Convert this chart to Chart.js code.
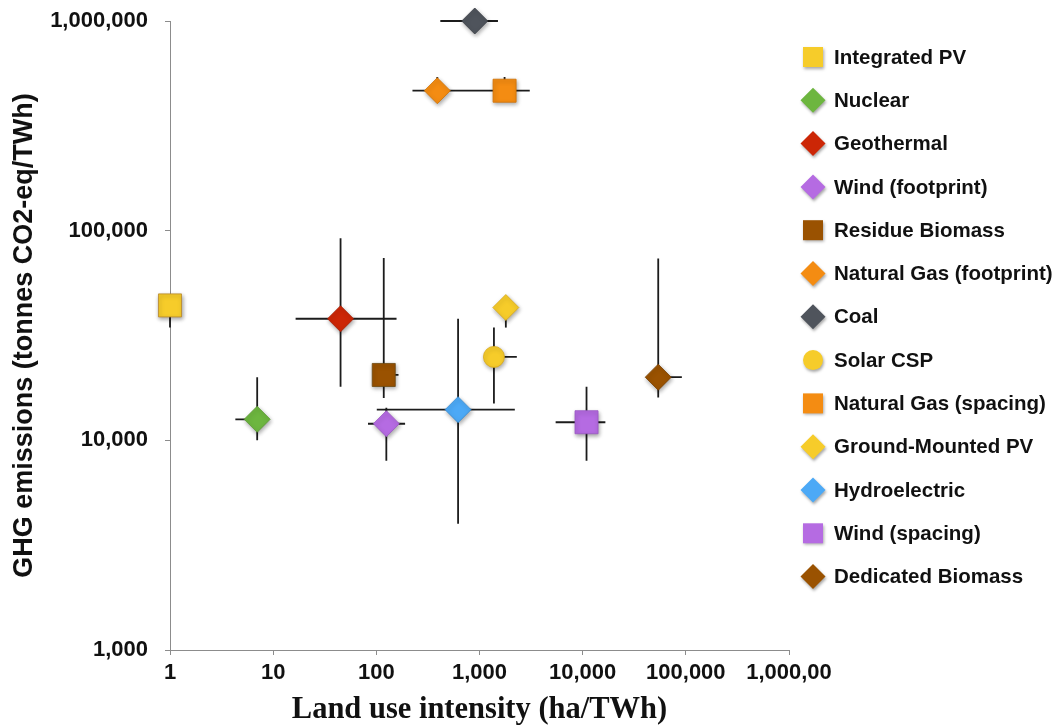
<!DOCTYPE html>
<html lang="en">
<head>
<meta charset="UTF-8">
<title>Land use vs GHG emissions</title>
<script src="https://cdn.jsdelivr.net/npm/chart.js"></script>
<style>
  body { margin: 0; background: #fff; }
  #wrap { width: 1062px; height: 727px; }
</style>
</head>
<body>
<div id="wrap"><canvas id="landChart" width="1062" height="727"></canvas></div>
<script>
// one point per energy source, with its error ranges (null = no bar)
const sources = ['Integrated PV', 'Nuclear', 'Geothermal', 'Wind (footprint)', 'Residue Biomass',
  'Natural Gas (footprint)', 'Coal', 'Solar CSP', 'Natural Gas (spacing)', 'Ground-Mounted PV',
  'Hydroelectric', 'Wind (spacing)', 'Dedicated Biomass'];
const landUse  = [1, 7, 45, 125, 118, 390, 900, 1380, 1750, 1800, 620, 10900, 54000];
const ghg      = [44000, 12600, 38000, 12000, 20500, 465000, 1000000, 25000, 465000, 43000, 14000, 12200, 20000];
const landLow  = [null, 4.3, 16.5, 83, null, 224, 417, null, 400, null, 101, 5470, null];
const landHigh = [null, null, 157, 190, 164, null, 1510, 2300, 3070, null, 2200, 16600, 91500];
const ghgLow   = [34500, 10000, 18000, 8000, 15900, null, null, 15000, 416000, 34500, 4000, 8000, 16000];
const ghgHigh  = [null, 20000, 92000, 14300, 74000, 541000, null, 34500, 541000, null, 38000, 18000, 73600];

const xTicks = [1, 10, 100, 1000, 10000, 100000, 1000000];
const xTickLabels = ['1', '10', '100', '1,000', '10,000', '100,000', '1,000,00'];
const yTicks = [1000, 10000, 100000, 1000000];
const yTickLabels = ['1,000', '10,000', '100,000', '1,000,000'];

const markerStyles = ['rect', 'rectRot', 'rectRot', 'rectRot', 'rect', 'rectRot', 'rectRot',
  'circle', 'rect', 'rectRot', 'rectRot', 'rect', 'rectRot'];
const markerColors = ['#F6CC2A', '#6DB63F', '#CC2606', '#B56BE2', '#9A5201', '#F48C12', '#4F545C',
  '#F6CC2A', '#F48C12', '#F6CC2A', '#4CA9F6', '#B56BE2', '#9A5201'];
const markerEdges = ['#B8862A', '#5A9A33', '#A81E04', '#9A58C4', '#6E4A10', '#D07408', '#3C4047',
  '#D9A91C', '#D07408', '#D9A91C', '#3A8DD3', '#9A58C4', '#7A4001'];
const markerRadius = { rect: 16.3, rectRot: 13, circle: 10.5 };

const sansFont = '"Liberation Sans", Arial, Helvetica, sans-serif';

const errorBars = {
  id: 'errorBars',
  beforeDatasetsDraw(chart) {
    const { ctx, scales: { x, y } } = chart;
    ctx.save();
    ctx.strokeStyle = '#1c1c1c';
    ctx.lineWidth = 1.8;
    for (let i = 0; i < sources.length; i++) {
      const px = x.getPixelForValue(landUse[i]);
      const py = y.getPixelForValue(ghg[i]);
      ctx.beginPath();
      if (landLow[i] !== null) { ctx.moveTo(x.getPixelForValue(landLow[i]), py); ctx.lineTo(px, py); }
      if (landHigh[i] !== null) { ctx.moveTo(px, py); ctx.lineTo(x.getPixelForValue(landHigh[i]), py); }
      if (ghgLow[i] !== null) { ctx.moveTo(px, y.getPixelForValue(ghgLow[i])); ctx.lineTo(px, py); }
      if (ghgHigh[i] !== null) { ctx.moveTo(px, py); ctx.lineTo(px, y.getPixelForValue(ghgHigh[i])); }
      ctx.stroke();
    }
    ctx.restore();
    // soft shadow under the markers
    ctx.save();
    ctx.shadowColor = 'rgba(0,0,0,0.35)';
    ctx.shadowBlur = 4;
    ctx.shadowOffsetX = 1;
    ctx.shadowOffsetY = 2;
  },
  afterDatasetsDraw(chart) {
    chart.ctx.restore();
  }
};

function drawMarker(ctx, style, x, y, color) {
  ctx.beginPath();
  if (style === 'rect') {
    ctx.rect(x - 10, y - 10, 20, 20);
  } else if (style === 'circle') {
    ctx.arc(x, y, 10, 0, Math.PI * 2);
  } else {
    ctx.moveTo(x - 12.5, y);
    ctx.lineTo(x, y - 12.5);
    ctx.lineTo(x + 12.5, y);
    ctx.lineTo(x, y + 12.5);
    ctx.closePath();
  }
  ctx.fillStyle = color;
  ctx.fill();
}

const sideLegend = {
  id: 'sideLegend',
  afterDraw(chart) {
    const ctx = chart.ctx;
    for (let i = 0; i < sources.length; i++) {
      const cy = 57 + i * 43.3;
      ctx.save();
      ctx.shadowColor = 'rgba(0,0,0,0.35)';
      ctx.shadowBlur = 3;
      ctx.shadowOffsetX = 1;
      ctx.shadowOffsetY = 2;
      drawMarker(ctx, markerStyles[i], 813, cy, markerColors[i]);
      ctx.restore();
      ctx.save();
      ctx.font = 'bold 20.5px ' + sansFont;
      ctx.textBaseline = 'middle';
      ctx.fillStyle = '#111';
      ctx.fillText(sources[i], 834, cy + 1);
      ctx.restore();
    }
  }
};

const datasets = sources.map((name, i) => ({
  label: name,
  data: [{ x: landUse[i], y: ghg[i] }],
  pointStyle: markerStyles[i],
  pointRadius: markerRadius[markerStyles[i]],
  pointHoverRadius: markerRadius[markerStyles[i]],
  backgroundColor: markerColors[i],
  borderColor: markerEdges[i],
  borderWidth: 0.8,
  clip: false
}));

new Chart(document.getElementById('landChart'), {
  type: 'scatter',
  data: { datasets: datasets },
  options: {
    responsive: false,
    animation: false,
    layout: { padding: { left: 0, right: 273, top: 21, bottom: 0 } },
    plugins: {
      legend: { display: false },
      tooltip: { enabled: false }
    },
    scales: {
      x: {
        type: 'logarithmic',
        min: 1,
        max: 1000000,
        afterBuildTicks: s => { s.ticks = xTicks.map(v => ({ value: v })); },
        afterFit: s => { s.height = 77; s.paddingLeft = 0; s.paddingRight = 0; },
        border: { color: '#8c8c8c', width: 1 },
        grid: { drawOnChartArea: false, color: '#8c8c8c', tickLength: 5 },
        ticks: {
          callback: (v, i) => xTickLabels[i],
          font: { family: sansFont, size: 22, weight: 'bold' },
          color: '#111',
          padding: 5,
          autoSkip: false,
          maxRotation: 0
        },
        title: {
          display: true,
          text: 'Land use intensity (ha/TWh)',
          font: { family: '"Liberation Serif", "Times New Roman", serif', size: 30.5, weight: 'bold', lineHeight: 1.1 },
          color: '#111',
          padding: { top: 0, bottom: 0 }
        }
      },
      y: {
        type: 'logarithmic',
        min: 1000,
        max: 1000000,
        afterBuildTicks: s => { s.ticks = yTicks.map(v => ({ value: v })); },
        afterFit: s => { s.width = 170; s.paddingTop = 0; s.paddingBottom = 0; },
        border: { color: '#8c8c8c', width: 1 },
        grid: { drawOnChartArea: false, color: '#8c8c8c', tickLength: 5 },
        ticks: {
          callback: (v, i) => yTickLabels[i],
          font: { family: sansFont, size: 22, weight: 'bold' },
          color: '#111',
          padding: 17,
          autoSkip: false
        },
        title: {
          display: true,
          text: 'GHG emissions (tonnes CO2-eq/TWh)',
          font: { family: sansFont, size: 27, weight: 'bold', lineHeight: 1.2 },
          color: '#111',
          padding: { top: 8, bottom: 0 }
        }
      }
    }
  },
  plugins: [errorBars, sideLegend]
});
</script>
</body>
</html>
